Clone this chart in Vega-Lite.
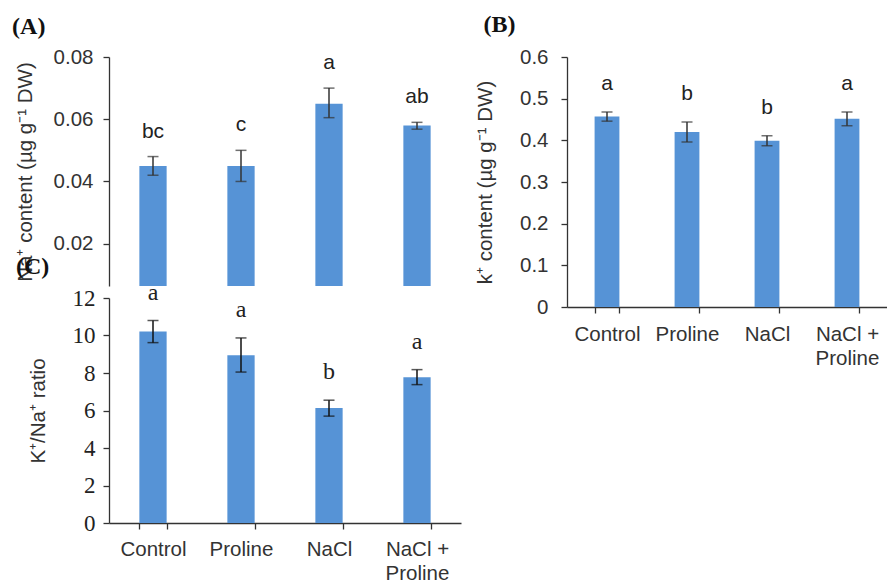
{
  "$schema": "https://vega.github.io/schema/vega-lite/v6.json",
  "padding": {"left": 12, "top": 13, "right": 0, "bottom": 0},
  "background": "white",
  "datasets": {
    "A": [
      {"g": "Control", "m": 0.045, "lo": 0.042, "hi": 0.048, "L": "bc"},
      {"g": "Proline", "m": 0.045, "lo": 0.040, "hi": 0.050, "L": "c"},
      {"g": "NaCl", "m": 0.065, "lo": 0.0605, "hi": 0.070, "L": "a"},
      {"g": "NaCl + Proline", "m": 0.058, "lo": 0.0568, "hi": 0.059, "L": "ab"}
    ],
    "B": [
      {"g": "Control", "m": 0.457, "lo": 0.446, "hi": 0.468, "L": "a"},
      {"g": "Proline", "m": 0.42, "lo": 0.396, "hi": 0.444, "L": "b"},
      {"g": "NaCl", "m": 0.399, "lo": 0.387, "hi": 0.411, "L": "b"},
      {"g": "NaCl + Proline", "m": 0.452, "lo": 0.435, "hi": 0.468, "L": "a"}
    ],
    "C": [
      {"g": "Control", "m": 10.22, "lo": 9.62, "hi": 10.8, "L": "a"},
      {"g": "Proline", "m": 8.95, "lo": 8.05, "hi": 9.87, "L": "a"},
      {"g": "NaCl", "m": 6.14, "lo": 5.7, "hi": 6.55, "L": "b"},
      {"g": "NaCl + Proline", "m": 7.78, "lo": 7.38, "hi": 8.18, "L": "a"}
    ]
  },
  "config": {
    "view": {"stroke": null},
    "axis": {
      "grid": false,
      "domainColor": "#333",
      "tickColor": "#333",
      "labelColor": "#333",
      "titleColor": "#333",
      "labelFont": "Liberation Sans",
      "titleFont": "Liberation Sans",
      "labelFontSize": 20.5,
      "titleFontSize": 20.5,
      "titleFontWeight": "normal",
      "tickSize": 6,
      "domainWidth": 1.3,
      "tickWidth": 1.3,
      "labelOverlap": false
    },
    "title": {"font": "Liberation Serif", "fontSize": 24, "fontWeight": "bold", "color": "#111", "anchor": "start", "frame": "bounds"}
  },
  "hconcat": [
    {
      "vconcat": [
        {
          "data": {"name": "A"},
          "width": 352,
          "height": 229,
          "title": {"text": "(A)", "dx": -3, "offset": 8},
          "encoding": {
            "x": {"field": "g", "type": "nominal", "sort": null, "scale": {"paddingInner": 0.69, "paddingOuter": 0.345}, "axis": null}
          },
          "layer": [
            {
              "mark": {"type": "bar", "color": "#5693d6", "clip": true},
              "encoding": {
                "y": {"field": "m", "type": "quantitative", "title": "Na⁺ content (µg g⁻¹ DW)",
                  "scale": {"domain": [0.0064, 0.08], "zero": false, "nice": false},
                  "axis": {"values": [0.02, 0.04, 0.06, 0.08], "tickCount": 8, "format": ".2f", "labelPadding": 10, "titlePadding": 18}}
              }
            },
            {
              "mark": {"type": "errorbar", "ticks": {"size": 11}, "color": "#333", "thickness": 1.5},
              "encoding": {
                "y": {"field": "lo", "type": "quantitative", "title": "Na⁺ content (µg g⁻¹ DW)"},
                "y2": {"field": "hi"}
              }
            },
            {
              "mark": {"type": "text", "dy": -25, "baseline": "middle", "font": "Liberation Sans", "fontSize": 21, "color": "#222"},
              "encoding": {
                "y": {"field": "hi", "type": "quantitative", "title": "Na⁺ content (µg g⁻¹ DW)"},
                "text": {"field": "L"}
              }
            }
          ]
        },
        {
          "data": {"name": "C"},
          "width": 352,
          "height": 225,
          "title": {"text": "(C)", "dx": -12, "offset": 2},
          "encoding": {
            "x": {"field": "g", "type": "nominal", "sort": null, "scale": {"paddingInner": 0.69, "paddingOuter": 0.345},
              "axis": {"title": null, "labelAngle": 0, "tickBand": "extent", "labelPadding": 10, "labelLineHeight": 24,
                "labelExpr": "datum.label == 'NaCl + Proline' ? ['NaCl +', 'Proline'] : datum.label"}}
          },
          "layer": [
            {
              "mark": {"type": "bar", "color": "#5693d6"},
              "encoding": {
                "y": {"field": "m", "type": "quantitative", "title": "K⁺/Na⁺ ratio",
                  "scale": {"domain": [0, 12], "nice": false},
                  "axis": {"values": [0, 2, 4, 6, 8, 10, 12], "tickCount": 12, "labelFont": "Liberation Serif", "labelFontSize": 23, "labelColor": "#222", "labelPadding": 8, "titlePadding": 24}}
              }
            },
            {
              "mark": {"type": "errorbar", "ticks": {"size": 11}, "color": "#111", "thickness": 1.5},
              "encoding": {
                "y": {"field": "lo", "type": "quantitative", "title": "K⁺/Na⁺ ratio"},
                "y2": {"field": "hi"}
              }
            },
            {
              "mark": {"type": "text", "dy": -28, "baseline": "middle", "font": "Liberation Serif", "fontSize": 24, "color": "#222"},
              "encoding": {
                "y": {"field": "hi", "type": "quantitative", "title": "K⁺/Na⁺ ratio"},
                "text": {"field": "L"}
              }
            }
          ]
        }
      ],
      "spacing": 12,
      "bounds": "flush"
    },
    {
      "data": {"name": "B"},
      "width": 320,
      "height": 250,
      "title": {"text": "(B)", "dx": 8, "offset": 10},
      "encoding": {
        "x": {"field": "g", "type": "nominal", "sort": null, "scale": {"paddingInner": 0.69, "paddingOuter": 0.345},
          "axis": {"title": null, "labelAngle": 0, "tickBand": "extent", "labelPadding": 11, "labelLineHeight": 24,
            "labelExpr": "datum.label == 'NaCl + Proline' ? ['NaCl +', 'Proline'] : datum.label"}}
      },
      "layer": [
        {
          "mark": {"type": "bar", "color": "#5693d6"},
          "encoding": {
            "y": {"field": "m", "type": "quantitative", "title": "k⁺ content (µg g⁻¹ DW)",
              "scale": {"domain": [0, 0.6], "nice": false},
              "axis": {"values": [0, 0.1, 0.2, 0.3, 0.4, 0.5, 0.6], "tickCount": 12, "labelExpr": "datum.value == 0 ? '0' : format(datum.value, '.1f')", "labelPadding": 13, "titlePadding": 24}}
          }
        },
        {
          "mark": {"type": "errorbar", "ticks": {"size": 11}, "color": "#333", "thickness": 1.5},
          "encoding": {
            "y": {"field": "lo", "type": "quantitative", "title": "k⁺ content (µg g⁻¹ DW)"},
            "y2": {"field": "hi"}
          }
        },
        {
          "mark": {"type": "text", "dy": -28, "baseline": "middle", "font": "Liberation Sans", "fontSize": 21, "color": "#222"},
          "encoding": {
            "y": {"field": "hi", "type": "quantitative", "title": "k⁺ content (µg g⁻¹ DW)"},
            "text": {"field": "L"}
          }
        }
      ]
    }
  ],
  "spacing": 14
}
